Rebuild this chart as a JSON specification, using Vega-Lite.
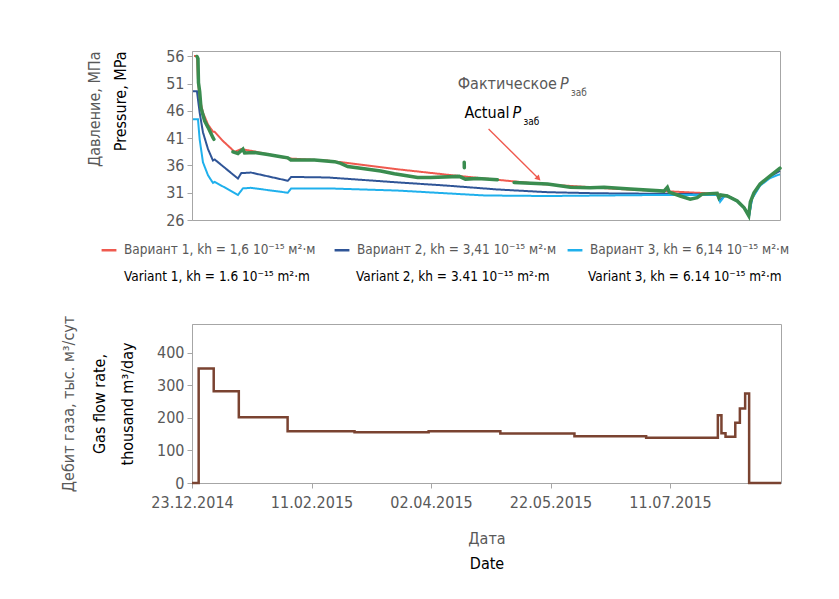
{
  "$schema": "https://vega.github.io/schema/vega-lite/v6.json",
  "background": "white",
  "padding": {"left": 60, "top": 47, "right": 20, "bottom": 10},
  "config": {
    "font": "DejaVu Sans Condensed, Roboto, sans-serif",
    "view": {"stroke": "#a6a6a6", "strokeWidth": 1},
    "axis": {
      "grid": false,
      "domainColor": "#a6a6a6",
      "tickColor": "#a6a6a6",
      "tickSize": 5,
      "labelColor": "#595959",
      "labelFontSize": 16,
      "labelPadding": 3,
      "labelOverlap": false,
      "labelFlush": false,
      "titleFontWeight": "normal",
      "titleFontSize": 16,
      "titleColor": "#595959"
    },
    "legend": {
      "labelFontSize": 13.5,
      "labelLimit": 400,
      "symbolType": "stroke",
      "symbolStrokeWidth": 2.5,
      "symbolSize": 220,
      "labelOffset": 6
    }
  },
  "datasets": {
    "names": [
      {"v": 1, "ru": "Вариант 1, kh = 1,6 10⁻¹⁵ м²·м", "en": "Variant 1, kh = 1.6 10⁻¹⁵ m²·m"},
      {"v": 2, "ru": "Вариант 2, kh = 3,41 10⁻¹⁵ м²·м", "en": "Variant 2, kh = 3.41 10⁻¹⁵ m²·m"},
      {"v": 3, "ru": "Вариант 3, kh = 6,14 10⁻¹⁵ м²·м", "en": "Variant 3, kh = 6.14 10⁻¹⁵ m²·m"}
    ],
    "variants": [
      {"v": 1, "d": "2014-12-23T20:00", "p": 56.1},
      {"v": 1, "d": "2014-12-25T02:00", "p": 56.1},
      {"v": 1, "d": "2014-12-25T12:00", "p": 51.8},
      {"v": 1, "d": "2014-12-26T03:00", "p": 48.5},
      {"v": 1, "d": "2014-12-27T14:00", "p": 45.7},
      {"v": 1, "d": "2014-12-29T17:00", "p": 43.5},
      {"v": 1, "d": "2014-12-31T19:00", "p": 42.2},
      {"v": 1, "d": "2015-01-01T10:00", "p": 42.2},
      {"v": 1, "d": "2015-01-04T23:00", "p": 40.5},
      {"v": 1, "d": "2015-01-09T21:00", "p": 38.5},
      {"v": 1, "d": "2015-01-12T15:00", "p": 39.0},
      {"v": 1, "d": "2015-01-16T17:00", "p": 38.7},
      {"v": 1, "d": "2015-02-01T04:00", "p": 37.3},
      {"v": 1, "d": "2015-02-17T22:00", "p": 36.9},
      {"v": 1, "d": "2015-03-19T05:00", "p": 35.3},
      {"v": 1, "d": "2015-04-13T07:00", "p": 34.1},
      {"v": 1, "d": "2015-05-18T00:00", "p": 32.6},
      {"v": 1, "d": "2015-06-19T05:00", "p": 31.7},
      {"v": 1, "d": "2015-07-22T17:00", "p": 31.0},
      {"v": 1, "d": "2015-07-31T22:00", "p": 30.8},
      {"v": 2, "d": "2014-12-23T10:00", "p": 49.6},
      {"v": 2, "d": "2014-12-25T02:00", "p": 49.6},
      {"v": 2, "d": "2014-12-26T05:00", "p": 45.7},
      {"v": 2, "d": "2014-12-27T14:00", "p": 42.1},
      {"v": 2, "d": "2014-12-29T17:00", "p": 39.0},
      {"v": 2, "d": "2014-12-31T19:00", "p": 36.9},
      {"v": 2, "d": "2015-01-01T12:00", "p": 37.1},
      {"v": 2, "d": "2015-01-11T06:00", "p": 33.6},
      {"v": 2, "d": "2015-01-12T15:00", "p": 34.6},
      {"v": 2, "d": "2015-01-16T17:00", "p": 34.7},
      {"v": 2, "d": "2015-02-01T04:00", "p": 33.2},
      {"v": 2, "d": "2015-02-02T13:00", "p": 33.9},
      {"v": 2, "d": "2015-02-17T22:00", "p": 33.8},
      {"v": 2, "d": "2015-03-19T05:00", "p": 32.9},
      {"v": 2, "d": "2015-04-09T02:00", "p": 32.3},
      {"v": 2, "d": "2015-04-30T00:00", "p": 31.6},
      {"v": 2, "d": "2015-05-21T00:00", "p": 31.1},
      {"v": 2, "d": "2015-06-10T22:00", "p": 30.9},
      {"v": 2, "d": "2015-07-08T19:00", "p": 30.8},
      {"v": 2, "d": "2015-07-31T02:00", "p": 30.7},
      {"v": 2, "d": "2015-08-01T07:00", "p": 29.6},
      {"v": 2, "d": "2015-08-03T00:00", "p": 30.4},
      {"v": 2, "d": "2015-08-04T07:00", "p": 30.5},
      {"v": 2, "d": "2015-08-08T12:00", "p": 29.5},
      {"v": 2, "d": "2015-08-11T10:00", "p": 28.3},
      {"v": 2, "d": "2015-08-13T12:00", "p": 26.9},
      {"v": 2, "d": "2015-08-14T17:00", "p": 30.0},
      {"v": 2, "d": "2015-08-18T02:00", "p": 32.5},
      {"v": 2, "d": "2015-08-22T07:00", "p": 34.0},
      {"v": 2, "d": "2015-08-26T10:00", "p": 35.0},
      {"v": 3, "d": "2014-12-23T10:00", "p": 44.5},
      {"v": 3, "d": "2014-12-25T12:00", "p": 44.5},
      {"v": 3, "d": "2014-12-26T05:00", "p": 40.8},
      {"v": 3, "d": "2014-12-27T14:00", "p": 36.6},
      {"v": 3, "d": "2014-12-29T17:00", "p": 34.2},
      {"v": 3, "d": "2014-12-31T19:00", "p": 32.8},
      {"v": 3, "d": "2015-01-01T12:00", "p": 33.0},
      {"v": 3, "d": "2015-01-11T06:00", "p": 30.6},
      {"v": 3, "d": "2015-01-13T08:00", "p": 31.8},
      {"v": 3, "d": "2015-01-16T17:00", "p": 31.9},
      {"v": 3, "d": "2015-02-01T04:00", "p": 31.0},
      {"v": 3, "d": "2015-02-02T13:00", "p": 31.8},
      {"v": 3, "d": "2015-02-17T22:00", "p": 31.8},
      {"v": 3, "d": "2015-03-19T05:00", "p": 31.4},
      {"v": 3, "d": "2015-04-24T14:00", "p": 30.5},
      {"v": 3, "d": "2015-05-21T00:00", "p": 30.4},
      {"v": 3, "d": "2015-07-08T19:00", "p": 30.6},
      {"v": 3, "d": "2015-07-31T02:00", "p": 30.6},
      {"v": 3, "d": "2015-08-01T07:00", "p": 29.3},
      {"v": 3, "d": "2015-08-03T00:00", "p": 30.3},
      {"v": 3, "d": "2015-08-04T07:00", "p": 30.4},
      {"v": 3, "d": "2015-08-08T12:00", "p": 29.4},
      {"v": 3, "d": "2015-08-11T10:00", "p": 28.2},
      {"v": 3, "d": "2015-08-13T12:00", "p": 26.8},
      {"v": 3, "d": "2015-08-14T17:00", "p": 29.9},
      {"v": 3, "d": "2015-08-18T02:00", "p": 32.3},
      {"v": 3, "d": "2015-08-22T07:00", "p": 33.7},
      {"v": 3, "d": "2015-08-26T10:00", "p": 34.4}
    ],
    "actual": [
      {"seg": 1, "d": "2014-12-25T02:00", "p": 56.0},
      {"seg": 1, "d": "2014-12-25T12:00", "p": 55.6},
      {"seg": 1, "d": "2014-12-25T17:00", "p": 51.2},
      {"seg": 1, "d": "2014-12-26T05:00", "p": 49.6},
      {"seg": 1, "d": "2014-12-26T18:00", "p": 46.6},
      {"seg": 1, "d": "2014-12-28T07:00", "p": 44.2},
      {"seg": 1, "d": "2014-12-29T17:00", "p": 43.0},
      {"seg": 1, "d": "2014-12-31T19:00", "p": 41.1},
      {"seg": 1, "d": "2015-01-01T05:00", "p": 40.8},
      {"seg": 2, "d": "2015-01-09T04:00", "p": 38.5},
      {"seg": 2, "d": "2015-01-11T06:00", "p": 38.2},
      {"seg": 2, "d": "2015-01-13T08:00", "p": 39.0},
      {"seg": 2, "d": "2015-01-14T01:00", "p": 38.3},
      {"seg": 2, "d": "2015-01-18T06:00", "p": 38.4},
      {"seg": 2, "d": "2015-01-23T19:00", "p": 38.0},
      {"seg": 2, "d": "2015-01-29T06:00", "p": 37.6},
      {"seg": 2, "d": "2015-02-01T04:00", "p": 37.4},
      {"seg": 2, "d": "2015-02-02T10:00", "p": 37.0},
      {"seg": 2, "d": "2015-02-12T08:00", "p": 37.0},
      {"seg": 2, "d": "2015-02-20T17:00", "p": 36.7},
      {"seg": 2, "d": "2015-02-23T08:00", "p": 36.4},
      {"seg": 2, "d": "2015-02-26T06:00", "p": 35.8},
      {"seg": 2, "d": "2015-03-03T17:00", "p": 35.5},
      {"seg": 2, "d": "2015-03-12T02:00", "p": 35.0},
      {"seg": 2, "d": "2015-03-17T19:00", "p": 34.5},
      {"seg": 2, "d": "2015-03-27T13:00", "p": 33.8},
      {"seg": 2, "d": "2015-04-02T00:00", "p": 33.8},
      {"seg": 2, "d": "2015-04-14T00:00", "p": 34.0},
      {"seg": 2, "d": "2015-04-16T14:00", "p": 33.5},
      {"seg": 2, "d": "2015-04-21T17:00", "p": 33.6},
      {"seg": 2, "d": "2015-04-30T00:00", "p": 33.4},
      {"seg": 3, "d": "2015-04-16T02:00", "p": 36.6},
      {"seg": 3, "d": "2015-04-16T03:00", "p": 35.6},
      {"seg": 4, "d": "2015-05-07T00:00", "p": 32.9},
      {"seg": 4, "d": "2015-05-21T00:00", "p": 32.6},
      {"seg": 4, "d": "2015-05-30T14:00", "p": 32.0},
      {"seg": 4, "d": "2015-06-07T22:00", "p": 31.9},
      {"seg": 4, "d": "2015-06-13T17:00", "p": 32.0},
      {"seg": 4, "d": "2015-06-24T17:00", "p": 31.7},
      {"seg": 4, "d": "2015-07-08T19:00", "p": 31.3},
      {"seg": 4, "d": "2015-07-10T05:00", "p": 32.0},
      {"seg": 4, "d": "2015-07-11T00:00", "p": 31.1},
      {"seg": 4, "d": "2015-07-15T14:00", "p": 30.4},
      {"seg": 4, "d": "2015-07-19T19:00", "p": 29.8},
      {"seg": 4, "d": "2015-07-22T17:00", "p": 30.1},
      {"seg": 4, "d": "2015-07-24T19:00", "p": 30.75},
      {"seg": 4, "d": "2015-07-31T02:00", "p": 30.9},
      {"seg": 4, "d": "2015-07-31T19:00", "p": 30.1},
      {"seg": 4, "d": "2015-08-01T12:00", "p": 30.6},
      {"seg": 4, "d": "2015-08-04T07:00", "p": 30.4},
      {"seg": 4, "d": "2015-08-08T12:00", "p": 29.5},
      {"seg": 4, "d": "2015-08-11T07:00", "p": 28.3},
      {"seg": 4, "d": "2015-08-13T07:00", "p": 26.8},
      {"seg": 4, "d": "2015-08-14T00:00", "p": 29.3},
      {"seg": 4, "d": "2015-08-15T12:00", "p": 31.0},
      {"seg": 4, "d": "2015-08-18T02:00", "p": 32.6},
      {"seg": 4, "d": "2015-08-22T07:00", "p": 34.1},
      {"seg": 4, "d": "2015-08-26T10:00", "p": 35.5}
    ],
    "notes": [
      {"line": "ru", "d": "2015-05-26T05:00", "p": 51.0, "word": "Фактическое", "sub": "заб"},
      {"line": "en", "d": "2015-05-06T07:00", "p": 45.7, "word": "Actual", "sub": "заб"}
    ],
    "arrow": [
      {"d": "2015-04-26T07:00", "p": 42.7, "d2": "2015-05-17T05:00", "p2": 33.6}
    ],
    "flow": [
      {"d": "2014-12-23T00:00", "q": 0},
      {"d": "2014-12-25T19:00", "q": 352},
      {"d": "2015-01-01T02:00", "q": 282},
      {"d": "2015-01-11T14:00", "q": 202},
      {"d": "2015-02-01T00:00", "q": 159},
      {"d": "2015-03-01T00:00", "q": 156},
      {"d": "2015-04-01T00:00", "q": 159},
      {"d": "2015-05-01T00:00", "q": 152},
      {"d": "2015-06-01T00:00", "q": 144},
      {"d": "2015-07-01T00:00", "q": 139},
      {"d": "2015-07-31T00:00", "q": 208},
      {"d": "2015-08-01T12:00", "q": 153},
      {"d": "2015-08-03T05:00", "q": 142},
      {"d": "2015-08-07T07:00", "q": 185},
      {"d": "2015-08-09T05:00", "q": 229},
      {"d": "2015-08-11T10:00", "q": 275},
      {"d": "2015-08-13T02:00", "q": 0},
      {"d": "2015-08-26T10:00", "q": 0}
    ]
  },
  "bounds": "flush",
  "spacing": 104,
  "vconcat": [
    {
      "width": 588,
      "height": 169,
      "resolve": {"axis": {"y": "independent"}},
      "layer": [
        {
          "data": {"name": "variants"},
          "transform": [{"lookup": "v", "from": {"data": {"name": "names"}, "key": "v", "fields": ["ru", "en"]}}],
          "mark": {"type": "line", "strokeWidth": 2},
          "encoding": {
            "x": {"field": "d", "type": "temporal", "axis": null,
                  "scale": {"domain": [{"year": 2014, "month": 12, "date": 23}, {"year": 2015, "month": 8, "date": 26, "hours": 10}]}},
            "y": {"field": "p", "type": "quantitative",
                  "scale": {"domain": [26, 57], "nice": false, "zero": false},
                  "axis": {"values": [26, 31, 36, 41, 46, 51, 56], "title": "Давление, МПа", "titlePadding": 63, "titleAnchor": "end"}},
            "color": {"field": "ru", "type": "nominal",
                      "scale": {"domain": ["Вариант 1, kh = 1,6 10⁻¹⁵ м²·м", "Вариант 2, kh = 3,41 10⁻¹⁵ м²·м", "Вариант 3, kh = 6,14 10⁻¹⁵ м²·м"], "range": ["#ef5a4f", "#2f5597", "#1fb0ec"]},
                      "legend": {"title": null, "orient": "none", "legendX": -92, "legendY": 190, "direction": "horizontal", "columns": 3, "gridAlign": "all", "columnPadding": 5, "labelColor": "#595959"}},
            "strokeDash": {"field": "en", "type": "nominal",
                      "scale": {"domain": ["Variant 1, kh = 1.6 10⁻¹⁵ m²·m", "Variant 2, kh = 3.41 10⁻¹⁵ m²·m", "Variant 3, kh = 6.14 10⁻¹⁵ m²·m"], "range": [[1, 0], [1, 0], [1, 0]]},
                      "legend": {"title": null, "orient": "none", "legendX": -92, "legendY": 217, "direction": "horizontal", "columns": 3, "gridAlign": "all", "columnPadding": 14, "labelColor": "#000000", "symbolOpacity": 0}}
          }
        },
        {
          "data": {"name": "actual"},
          "mark": {"type": "line", "strokeWidth": 3.5, "color": "#3a8c4f", "strokeCap": "round"},
          "encoding": {
            "x": {"field": "d", "type": "temporal", "axis": null},
            "y": {"field": "p", "type": "quantitative",
                  "axis": {"orient": "left", "title": "Pressure, MPa", "titleColor": "#000000", "labels": false, "ticks": false, "domain": false, "titlePadding": 64, "titleAnchor": "end"}},
            "detail": {"field": "seg", "type": "nominal"}
          }
        },
        {
          "data": {"name": "arrow"},
          "mark": {"type": "rule", "color": "#ef5a4f", "strokeWidth": 1.3},
          "encoding": {
            "x": {"field": "d", "type": "temporal", "axis": null},
            "y": {"field": "p", "type": "quantitative", "axis": null},
            "x2": {"field": "d2"},
            "y2": {"field": "p2"}
          }
        },
        {
          "data": {"name": "arrow"},
          "mark": {"type": "point", "shape": "triangle-up", "angle": 135, "size": 40, "filled": true, "color": "#ef5a4f", "opacity": 1},
          "encoding": {
            "x": {"field": "d2", "type": "temporal", "axis": null},
            "y": {"field": "p2", "type": "quantitative", "axis": null}
          }
        },
        {
          "data": {"name": "notes"},
          "mark": {"type": "text", "align": "right", "baseline": "middle", "dx": -3, "fontSize": 16},
          "encoding": {
            "x": {"field": "d", "type": "temporal", "axis": null},
            "y": {"field": "p", "type": "quantitative", "axis": null},
            "text": {"field": "word"},
            "color": {"condition": {"test": "datum.line === 'ru'", "value": "#595959"}, "value": "#000000"}
          }
        },
        {
          "data": {"name": "notes"},
          "mark": {"type": "text", "align": "left", "baseline": "middle", "fontSize": 16, "fontStyle": "italic"},
          "encoding": {
            "x": {"field": "d", "type": "temporal", "axis": null},
            "y": {"field": "p", "type": "quantitative", "axis": null},
            "text": {"value": "P"},
            "color": {"condition": {"test": "datum.line === 'ru'", "value": "#595959"}, "value": "#000000"}
          }
        },
        {
          "data": {"name": "notes"},
          "mark": {"type": "text", "align": "left", "baseline": "middle", "fontSize": 10, "dx": 11, "dy": 9},
          "encoding": {
            "x": {"field": "d", "type": "temporal", "axis": null},
            "y": {"field": "p", "type": "quantitative", "axis": null},
            "text": {"field": "sub"},
            "color": {"condition": {"test": "datum.line === 'ru'", "value": "#595959"}, "value": "#000000"}
          }
        }
      ]
    },
    {
      "width": 589,
      "height": 159,
      "resolve": {"axis": {"x": "independent", "y": "independent"}},
      "layer": [
        {
          "data": {"name": "flow"},
          "mark": {"type": "line", "interpolate": "step-after", "strokeWidth": 2.5, "color": "#7a4331"},
          "encoding": {
            "x": {"field": "d", "type": "temporal",
                  "scale": {"domain": [{"year": 2014, "month": 12, "date": 23}, {"year": 2015, "month": 8, "date": 26, "hours": 10}]},
                  "axis": {"values": [{"year": 2014, "month": 12, "date": 23}, {"year": 2015, "month": 2, "date": 11}, {"year": 2015, "month": 4, "date": 2}, {"year": 2015, "month": 5, "date": 22}, {"year": 2015, "month": 7, "date": 11}],
                           "format": "%d.%m.%Y", "labelPadding": 6, "title": "Дата", "titlePadding": 20}},
            "y": {"field": "q", "type": "quantitative",
                  "scale": {"domain": [0, 489], "nice": false},
                  "axis": {"values": [0, 100, 200, 300, 400], "title": "Дебит газа, тыс. м³/сут", "titlePadding": 80}}
          }
        },
        {
          "data": {"name": "flow"},
          "mark": {"type": "line", "interpolate": "step-after", "opacity": 0},
          "encoding": {
            "x": {"field": "d", "type": "temporal",
                  "axis": {"orient": "bottom", "title": "Date", "titleColor": "#000000", "labels": false, "ticks": false, "domain": false, "titlePadding": 72}},
            "y": {"field": "q", "type": "quantitative",
                  "axis": {"orient": "left", "title": ["Gas flow rate,", "thousand m³/day"], "titleColor": "#000000", "titleLineHeight": 28, "labels": false, "ticks": false, "domain": false, "titlePadding": 57}}
          }
        }
      ]
    }
  ]
}
